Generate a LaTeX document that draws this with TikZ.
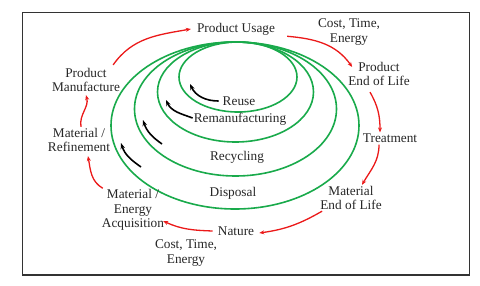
\documentclass[tikz,border=0pt]{standalone}
\usepackage{fontspec}
\setmainfont{Liberation Serif}
\usetikzlibrary{arrows.meta}
\definecolor{cgreen}{RGB}{25,170,75}
\definecolor{cred}{RGB}{235,25,25}
\tikzset{
  lbl/.style={align=center, inner sep=1pt, font=\fontsize{13.3}{14.5}\selectfont, text=black!85},
  ring/.style={draw=cgreen, line width=1.6pt},
  redarr/.style={draw=cred, line width=1.3pt, -{Stealth[length=5pt,width=4pt]}},
  blkarr/.style={draw=black, line width=1.6pt, -{Stealth[length=6pt,width=4.5pt]}},
}
\begin{document}
\begin{tikzpicture}[x=1pt,y=-1pt]
\useasboundingbox (0,0) rectangle (480,285);
\draw[draw=black!80, line width=1.3pt] (22.5,12.3) rectangle (469.7,275);
% rings
\draw[ring] (238,77) ellipse [x radius=59, y radius=35];
\draw[ring] (235.5,92) ellipse [x radius=78, y radius=50];
\draw[ring] (235.5,109) ellipse [x radius=101, y radius=67];
\draw[ring] (235,125.5) ellipse [x radius=124, y radius=83.5];
% labels
\node[lbl] (pu) at (236,29) {Product Usage};
\node[lbl] (cte1) at (349,32) {Cost, Time,\\Energy};
\node[lbl] (pel) at (379,74) {Product\\End of Life};
\node[lbl] (tr) at (390,138) {Treatment};
\node[lbl] (mel) at (351,198) {Material\\End of Life};
\node[lbl] (na) at (236,231) {Nature};
\node[lbl] (cte2) at (186,253) {Cost, Time,\\Energy};
\node[lbl] (mea) at (133,210) {Material /\\Energy\\Acquisition};
\node[lbl] (mr) at (79,140) {Material /\\Refinement};
\node[lbl] (pm) at (86,80) {Product\\Manufacture};
\node[lbl] (reuse) at (239,101) {Reuse};
\node[lbl] (reman) at (240,119) {Remanufacturing};
\node[lbl] (recyc) at (237,157) {Recycling};
\node[lbl] (disp) at (233,193) {Disposal};
% red cycle arrows
\draw[redarr] ([xshift=-8pt,yshift=2pt]pm.north east) to[out=55,in=190] ([xshift=-5pt]pu.west);
\draw[redarr] ([xshift=11pt]pu.south east) to[out=-5,in=125] ([xshift=5pt,yshift=7pt]pel.west);
\draw[redarr] ([xshift=-9pt,yshift=-5pt]pel.south) to[out=-60,in=90] ([xshift=-10pt]tr.north);
\draw[redarr] ([xshift=-11pt,yshift=-1pt]tr.south) to[out=-90,in=60] ([xshift=11pt]mel.north);
\draw[redarr] ([xshift=3pt]mel.south west) to[out=-150,in=8] ([xshift=4pt,yshift=-2pt]na.east);
\draw[redarr] ([xshift=-4pt]na.west) to[out=178,in=-25] ([xshift=-2pt,yshift=-11pt]mea.east);
\draw[redarr] ([xshift=2pt]mea.north west) to[out=150,in=-80] ([xshift=9pt,yshift=-3pt]mr.south);
\draw[redarr] ([xshift=2pt]mr.north) to[out=100,in=-75] ([yshift=-2pt]pm.south);
% black arrows
\coordinate (t1) at (190,84);
\coordinate (t2) at (166,100);
\coordinate (s3) at (162,144);
\coordinate (t3) at (143,120);
\coordinate (s4) at (141,167);
\coordinate (t4) at (121,143);
\draw[blkarr] ([xshift=-3pt]reuse.west) to[out=180,in=-65] (t1);
\draw[blkarr] ([yshift=1pt]reman.west) to[out=160,in=-65] (t2);
\draw[blkarr] (s3) to[out=145,in=-72] (t3);
\draw[blkarr] (s4) to[out=145,in=-72] (t4);
\end{tikzpicture}
\end{document}
